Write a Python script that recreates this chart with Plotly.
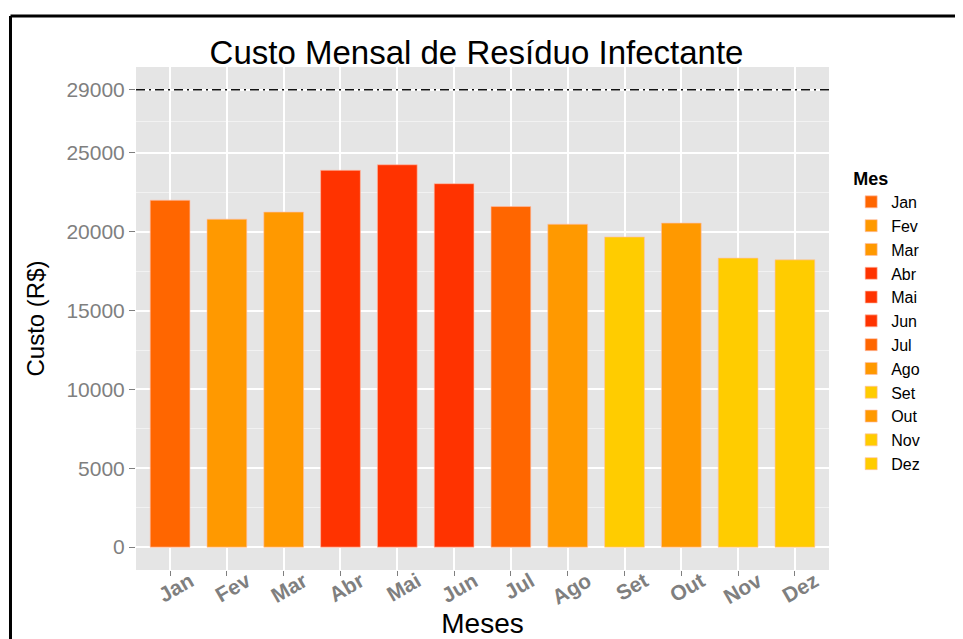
import plotly.graph_objects as go

# ---- data ----
meses = ["Jan", "Fev", "Mar", "Abr", "Mai", "Jun", "Jul", "Ago", "Set", "Out", "Nov", "Dez"]
custo = [22000, 20800, 21250, 23900, 24250, 23050, 21600, 20480, 19670, 20550, 18330, 18220]
cores = ["#FF6600", "#FF9900", "#FF9900", "#FF3300", "#FF3300", "#FF3300",
         "#FF6600", "#FF9900", "#FFCC00", "#FF9900", "#FFCC00", "#FFCC00"]
y_ticks = [0, 5000, 10000, 15000, 20000, 25000, 29000]
y_minor = [2500, 7500, 12500, 17500, 22500, 27000]
limite = 29000

FONT = "Liberation Sans, Arial, Helvetica, sans-serif"

fig = go.Figure()
for m, c, col in zip(meses, custo, cores):
    fig.add_trace(go.Bar(
        x=[m], y=[c], name=m, width=0.7,
        marker=dict(color=col, line=dict(color="rgba(255,190,170,0.8)", width=0.8)),
        showlegend=True,
    ))

# horizontal reference line
fig.add_shape(type="line", xref="paper", yref="y", x0=0, x1=1, y0=limite, y1=limite,
              line=dict(color="#111111", width=1.5, dash="9px,4px,2px,4px"), layer="above")

# black frame (top and left)
fig.add_shape(type="line", xref="paper", yref="paper", x0=-0.1811, x1=1.3, y0=1.1014, y1=1.1014,
              line=dict(color="black", width=3))
fig.add_shape(type="line", xref="paper", yref="paper", x0=-0.1811, x1=-0.1811, y0=-0.2, y1=1.1014,
              line=dict(color="black", width=3))

fig.update_layout(
    width=955, height=631,
    margin=dict(l=128, r=134, t=59, b=69),
    paper_bgcolor="white",
    plot_bgcolor="#E5E5E5",
    barmode="overlay",
    font=dict(family=FONT, color="black"),
    title=dict(text="Custo Mensal de Resíduo Infectante", x=0.4906, xanchor="center",
               y=0.930, yanchor="middle", font=dict(size=33, color="black", family=FONT)),
    legend=dict(
        title=dict(text="<b>Mes</b>", font=dict(size=18, color="black")),
        font=dict(size=16, color="black"),
        x=1.032, xanchor="left", y=0.812, yanchor="top",
        tracegroupgap=0, bgcolor="rgba(0,0,0,0)", itemwidth=30,
    ),
    xaxis=dict(
        type="category", categoryorder="array", categoryarray=meses,
        range=[-0.6, 11.6],
        showgrid=True, gridcolor="white", gridwidth=1.6,
        ticks="outside", ticklen=5, tickcolor="#7F7F7F", tickwidth=1,
        tickangle=-30, ticklabelshift=20, ticklabelstandoff=-15,
        tickfont=dict(size=21, color="#7F7F7F", family=FONT, weight="bold"),
        title=dict(text="Meses", font=dict(size=28, color="black"), standoff=14),
        zeroline=False, showline=False, automargin=False,
    ),
    yaxis=dict(
        range=[-1450, 30450],
        tickmode="array", tickvals=y_ticks, ticktext=[str(v) for v in y_ticks],
        showgrid=True, gridcolor="white", gridwidth=1.6,
        minor=dict(tickvals=y_minor, showgrid=True, gridcolor="#F2F2F2", gridwidth=1, ticks=""),
        ticks="outside", ticklen=6, tickcolor="#7F7F7F", tickwidth=1,
        tickfont=dict(size=21, color="#7F7F7F", family=FONT),
        title=dict(text="Custo (R$)", font=dict(size=24, color="black"), standoff=14),
        zeroline=False, showline=False, automargin=False,
    ),
)

fig.write_html("out.html")
